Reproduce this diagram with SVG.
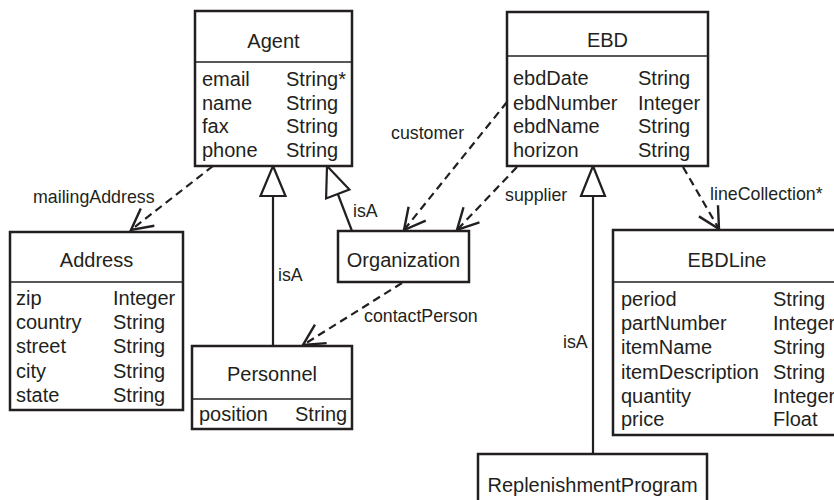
<svg xmlns="http://www.w3.org/2000/svg" width="834" height="500" viewBox="0 0 834 500">
<style>
.box{fill:#fff;stroke:#231f20;stroke-width:2.5}
.div{stroke:#231f20;stroke-width:1.6}
text{font-family:"Liberation Sans",Arial,sans-serif;fill:#231f20}
.t{font-size:20px}
.m{text-anchor:middle}
.lbl{font-size:17.8px}
.dash{fill:none;stroke:#231f20;stroke-width:2.2;stroke-dasharray:8 5}
.solid{fill:none;stroke:#231f20;stroke-width:2.2}
.tri{fill:#fff;stroke:#231f20;stroke-width:2.2}
</style>
<defs>
<marker id="open" markerUnits="userSpaceOnUse" markerWidth="40" markerHeight="40" viewBox="-30 -20 40 40" refX="0" refY="0" orient="auto" overflow="visible">
<path d="M-21,-11 L0,0 L-21,11" fill="none" stroke="#231f20" stroke-width="2.4" stroke-dasharray="none"/>
</marker>
</defs>
<g id="connectors">
<path class="dash" d="M213,166 L131,230" marker-end="url(#open)"/>
<text class="lbl" x="33" y="203">mailingAddress</text>
<path class="solid" d="M273,346 L273,196"/>
<polygon class="tri" points="273,166 285.5,196 260.5,196"/>
<text class="lbl" x="278" y="281">isA</text>
<path class="solid" d="M352,231 L337.8,194"/>
<polygon class="tri" points="327,166 349.4,189.5 326.1,198.5"/>
<text class="lbl" x="353" y="217">isA</text>
<path class="dash" d="M507,102 L404,230" marker-end="url(#open)"/>
<text class="lbl" x="391" y="139">customer</text>
<path class="dash" d="M517,167 L457,230" marker-end="url(#open)"/>
<text class="lbl" x="505" y="201">supplier</text>
<path class="dash" d="M683,167 L719,229" marker-end="url(#open)"/>
<text class="lbl" x="710" y="200">lineCollection*</text>
<path class="dash" d="M402,283 L303,345" marker-end="url(#open)"/>
<text class="lbl" x="364" y="322">contactPerson</text>
<path class="solid" d="M593,454 L593,196"/>
<polygon class="tri" points="593,166 605,196 581,196"/>
<text class="lbl" x="563" y="348">isA</text>
</g>
<g id="agent">
<rect class="box" x="195" y="11" width="157" height="155"/>
<line class="div" x1="195" y1="62" x2="352" y2="62"/>
<text class="t m" x="273.5" y="48">Agent</text>
<text class="t" x="202" y="86">email</text><text class="t" x="286" y="86">String*</text>
<text class="t" x="202" y="110">name</text><text class="t" x="286" y="110">String</text>
<text class="t" x="202" y="133">fax</text><text class="t" x="286" y="133">String</text>
<text class="t" x="202" y="157">phone</text><text class="t" x="286" y="157">String</text>
</g>
<g id="ebd">
<rect class="box" x="507" y="12" width="201" height="154"/>
<line class="div" x1="507" y1="56" x2="708" y2="56"/>
<text class="t m" x="607.5" y="47">EBD</text>
<text class="t" x="513" y="85">ebdDate</text><text class="t" x="638" y="85">String</text>
<text class="t" x="513" y="110">ebdNumber</text><text class="t" x="638" y="110">Integer</text>
<text class="t" x="513" y="133">ebdName</text><text class="t" x="638" y="133">String</text>
<text class="t" x="513" y="157">horizon</text><text class="t" x="638" y="157">String</text>
</g>
<g id="address">
<rect class="box" x="10" y="232" width="173" height="178"/>
<line class="div" x1="10" y1="282" x2="183" y2="282"/>
<text class="t m" x="96.5" y="267">Address</text>
<text class="t" x="16" y="305">zip</text><text class="t" x="113" y="305">Integer</text>
<text class="t" x="16" y="329">country</text><text class="t" x="113" y="329">String</text>
<text class="t" x="16" y="353">street</text><text class="t" x="113" y="353">String</text>
<text class="t" x="16" y="378">city</text><text class="t" x="113" y="378">String</text>
<text class="t" x="16" y="402">state</text><text class="t" x="113" y="402">String</text>
</g>
<g id="organization">
<rect class="box" x="338" y="231" width="131" height="51"/>
<text class="t m" x="403.5" y="267">Organization</text>
</g>
<g id="personnel">
<rect class="box" x="192" y="346" width="160" height="83"/>
<line class="div" x1="192" y1="399" x2="352" y2="399"/>
<text class="t m" x="272" y="381">Personnel</text>
<text class="t" x="199" y="421">position</text><text class="t" x="295" y="421">String</text>
</g>
<g id="ebdline">
<rect class="box" x="613" y="230" width="228" height="205"/>
<line class="div" x1="613" y1="282" x2="841" y2="282"/>
<text class="t m" x="727" y="267">EBDLine</text>
<text class="t" x="621" y="306">period</text><text class="t" x="773" y="306">String</text>
<text class="t" x="621" y="330">partNumber</text><text class="t" x="773" y="330">Integer</text>
<text class="t" x="621" y="354">itemName</text><text class="t" x="773" y="354">String</text>
<text class="t" x="621" y="379">itemDescription</text><text class="t" x="773" y="379">String</text>
<text class="t" x="621" y="403">quantity</text><text class="t" x="773" y="403">Integer</text>
<text class="t" x="621" y="426">price</text><text class="t" x="773" y="426">Float</text>
</g>
<g id="replenishment">
<rect class="box" x="478" y="454" width="229" height="80"/>
<text class="t m" x="592.5" y="492">ReplenishmentProgram</text>
</g>
</svg>
